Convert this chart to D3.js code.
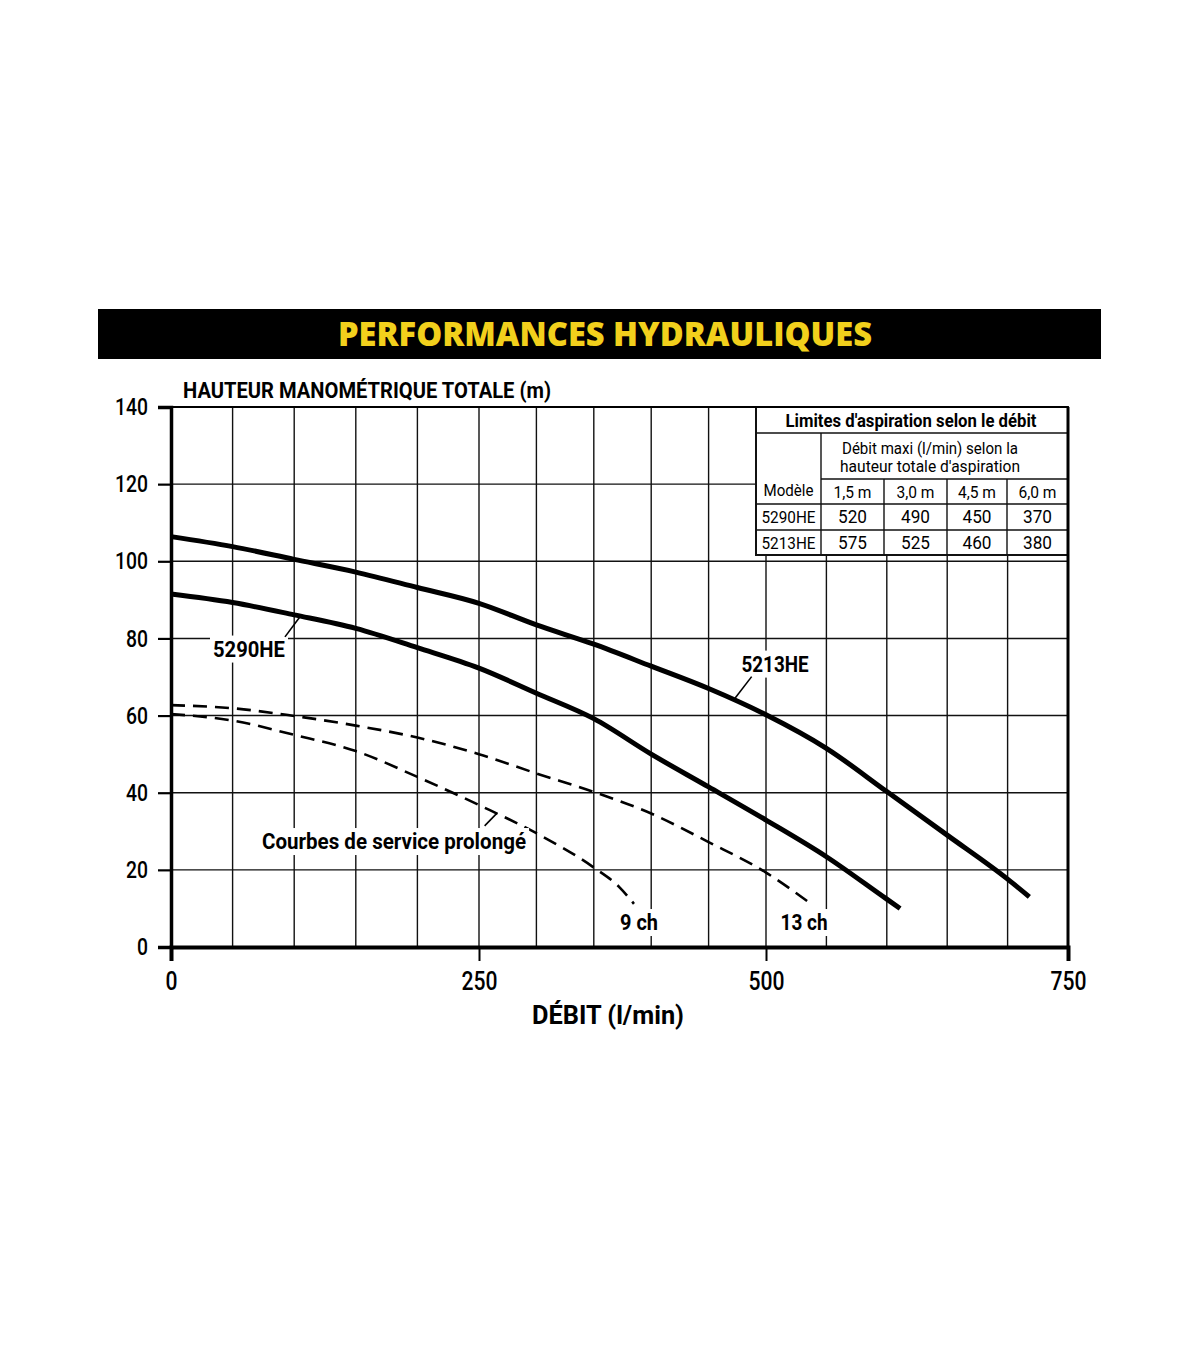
<!DOCTYPE html>
<html>
<head>
<meta charset="utf-8">
<script src="https://cdnjs.cloudflare.com/ajax/libs/d3/7.8.5/d3.min.js"></script>
<style>
  body { margin: 0; background: #fff; }
  text { font-family: Roboto, "Liberation Sans", sans-serif; }
</style>
</head>
<body>
<svg id="chart" width="1200" height="1372"></svg>
<script>
// ---- data ----
var flowTicks = [0, 250, 500, 750];
var flowGrid = [50, 100, 150, 200, 250, 300, 350, 400, 450, 500, 550, 600, 650, 700];
var headTicks = [0, 20, 40, 60, 80, 100, 120, 140];

// debit (l/min), hauteur (m)
var curve5213 = [[0, 106.4], [50, 103.8], [100, 100.5], [150, 97.2], [200, 93.2], [250, 89.1],
  [300, 83.5], [350, 78.5], [400, 72.8], [450, 67.0], [500, 60.2], [550, 51.5],
  [600, 40.3], [650, 29.0], [700, 17.6], [718, 13.0]];
var curve5290 = [[0, 91.5], [50, 89.3], [100, 86.1], [150, 82.6], [200, 77.6], [250, 72.3],
  [300, 65.8], [350, 59.2], [400, 50.0], [450, 41.5], [500, 32.9], [550, 23.4],
  [600, 12.4], [611, 10.0]];
var service13 = [[0, 62.7], [50, 61.9], [100, 59.9], [150, 57.4], [200, 54.3], [250, 50.0],
  [300, 45.0], [350, 40.2], [400, 34.6], [450, 27.2], [500, 19.3], [535, 11.7]];
var service9 = [[0, 60.4], [50, 58.7], [100, 55.0], [150, 50.8], [200, 44.1], [250, 36.8],
  [300, 29.5], [350, 20.6], [372, 15.6], [385, 11.2]];

// suction table
var tableTitle = "Limites d'aspiration selon le débit";
var tableSub = ["Débit maxi (l/min) selon la", "hauteur totale d'aspiration"];
var modelHeader = "Modèle";
var suctionHeights = ["1,5 m", "3,0 m", "4,5 m", "6,0 m"];
var models = ["5290HE", "5213HE"];
var maxFlow5290 = [520, 490, 450, 370];
var maxFlow5213 = [575, 525, 460, 380];

var svg = d3.select("#chart");

// the printed grid is slightly uneven, so the x scale is piecewise
var x = d3.scaleLinear().domain(flowTicks).range([171, 479, 766, 1068]);
var y = d3.scaleLinear().domain([0, 140]).range([947, 407]);

// squeeze text to the printed (condensed) width
function fit(sel, w) {
  sel.attr("textLength", w).attr("lengthAdjust", "spacingAndGlyphs");
  return sel;
}

// title bar
svg.append("rect").attr("x", 98).attr("y", 309).attr("width", 1003).attr("height", 50).attr("fill", "#000");
svg.append("text")
  .attr("x", 605).attr("y", 346)
  .attr("text-anchor", "middle")
  .style("font-family", "'Open Sans', 'DejaVu Sans', sans-serif")
  .style("font-weight", "800")
  .style("font-size", "33px")
  .attr("fill", "#f2d01c")
  .text("PERFORMANCES HYDRAULIQUES")
  .call(fit, 534);

// grid
var grid = svg.append("g").attr("stroke", "#111").attr("stroke-width", 1.4);
grid.selectAll("line.v").data(flowGrid).join("line")
  .attr("x1", d => x(d)).attr("x2", d => x(d))
  .attr("y1", y(140)).attr("y2", y(0));
grid.selectAll("line.h").data(headTicks.slice(1, -1)).join("line")
  .attr("x1", x(0)).attr("x2", x(750))
  .attr("y1", d => y(d)).attr("y2", d => y(d));

// suction table (covers grid)
var colX = [756, 821, 884, 947, 1007, 1068];
var rowY = [407, 433, 479, 504, 530, 555];
var tbl = svg.append("g");
tbl.append("rect").attr("x", colX[0]).attr("y", rowY[0])
  .attr("width", colX[5] - colX[0]).attr("height", rowY[5] - rowY[0])
  .attr("fill", "#fff").attr("stroke", "#111").attr("stroke-width", 2);
var tl = tbl.append("g").attr("stroke", "#111").attr("stroke-width", 1.4);
tl.append("line").attr("x1", colX[0]).attr("x2", colX[5]).attr("y1", rowY[1]).attr("y2", rowY[1]);
tl.append("line").attr("x1", colX[1]).attr("x2", colX[5]).attr("y1", rowY[2]).attr("y2", rowY[2]);
[3, 4].forEach(function (r) {
  tl.append("line").attr("x1", colX[0]).attr("x2", colX[5]).attr("y1", rowY[r]).attr("y2", rowY[r]);
});
tl.append("line").attr("x1", colX[1]).attr("x2", colX[1]).attr("y1", rowY[1]).attr("y2", rowY[5]);
[2, 3, 4].forEach(function (c) {
  tl.append("line").attr("x1", colX[c]).attr("x2", colX[c]).attr("y1", rowY[2]).attr("y2", rowY[5]);
});
tbl.append("text").attr("x", 911).attr("y", 427)
  .attr("text-anchor", "middle").style("font-weight", "bold").style("font-size", "18px")
  .text(tableTitle).call(fit, 251);
tbl.selectAll("text.sub").data(tableSub).join("text")
  .attr("x", 930).attr("y", (d, i) => 454 + i * 18)
  .attr("text-anchor", "middle").style("font-size", "16px")
  .text(d => d)
  .each(function (d, i) { d3.select(this).call(fit, i ? 180 : 176); });
tbl.append("text").attr("x", (colX[0] + colX[1]) / 2).attr("y", 496)
  .attr("text-anchor", "middle").style("font-size", "16px").text(modelHeader).call(fit, 50);
tbl.selectAll("text.hd").data(suctionHeights).join("text")
  .attr("x", (d, i) => (colX[i + 1] + colX[i + 2]) / 2).attr("y", 498)
  .attr("text-anchor", "middle").style("font-size", "16px")
  .text(d => d).call(fit, 38);
[maxFlow5290, maxFlow5213].forEach(function (row, r) {
  tbl.append("text").attr("x", (colX[0] + colX[1]) / 2).attr("y", rowY[r + 3] + 19)
    .attr("text-anchor", "middle").style("font-size", "17px").text(models[r]).call(fit, 54);
  tbl.selectAll("text.v" + r).data(row).join("text")
    .attr("x", (d, i) => (colX[i + 1] + colX[i + 2]) / 2).attr("y", rowY[r + 3] + 19)
    .attr("text-anchor", "middle").style("font-size", "18px")
    .text(d => d).call(fit, 29);
});

// curves
var line = d3.line().x(d => x(d[0])).y(d => y(d[1])).curve(d3.curveMonotoneX);
[curve5213, curve5290].forEach(function (c) {
  svg.append("path").attr("d", line(c)).attr("fill", "none")
    .attr("stroke", "#000").attr("stroke-width", 5).attr("stroke-linecap", "butt");
});
[service13, service9].forEach(function (c) {
  svg.append("path").attr("d", line(c)).attr("fill", "none")
    .attr("stroke", "#000").attr("stroke-width", 2.6).attr("stroke-dasharray", "14,8");
});

// labels with white backing and leader lines
function label(text, cx, base, w, lead) {
  var g = svg.append("g");
  var t = g.append("text").attr("x", x(cx)).attr("y", y(base))
    .attr("text-anchor", "middle").style("font-size", "22px")
    .style("font-weight", "bold").text(text).call(fit, w);
  var b = t.node().getBBox();
  g.insert("rect", "text").attr("x", b.x - 3).attr("y", b.y - 1)
    .attr("width", b.width + 6).attr("height", b.height + 2).attr("fill", "#fff");
  if (lead) {
    g.append("line").attr("x1", x(lead[0])).attr("y1", y(lead[1]))
      .attr("x2", x(lead[2])).attr("y2", y(lead[3]))
      .attr("stroke", "#000").attr("stroke-width", 1.6);
  }
}
label("5290HE", 63.3, 75.3, 72, [92.5, 80.4, 104.7, 85.6]);
label("5213HE", 507.5, 71.4, 67, [487.5, 70.1, 473, 64.5]);
label("Courbes de service prolongé", 181, 25.4, 264, [254.9, 31.4, 265.7, 34.7]);
label("9 ch", 389.4, 4.4, 38, null);
label("13 ch", 531.5, 4.4, 47, null);

// frame and axes
svg.append("line").attr("x1", x(0)).attr("x2", x(750)).attr("y1", y(140)).attr("y2", y(140))
  .attr("stroke", "#000").attr("stroke-width", 2.2);
svg.append("line").attr("x1", x(750)).attr("x2", x(750)).attr("y1", y(140)).attr("y2", y(0))
  .attr("stroke", "#000").attr("stroke-width", 3);

var yAxis = svg.append("g").attr("transform", "translate(" + x(0) + ",0)")
  .call(d3.axisLeft(y).tickValues(headTicks).tickSize(13).tickPadding(10));
yAxis.select(".domain").attr("stroke-width", 3.5);
yAxis.selectAll(".tick line").attr("stroke-width", 2.2);
yAxis.selectAll(".tick text").style("font-size", "24px").style("font-family", null)
  .style("font-weight", "500").attr("fill", "#000")
  .each(function (d) { d3.select(this).call(fit, String(d).length * 11); });

var xAxis = svg.append("g").attr("transform", "translate(0," + y(0) + ")")
  .call(d3.axisBottom(x).tickValues(flowTicks).tickSize(14).tickPadding(11));
xAxis.select(".domain").attr("stroke-width", 4);
xAxis.selectAll(".tick line").attr("stroke-width", 2);
xAxis.selectAll(".tick text").style("font-size", "25px").style("font-family", null)
  .style("font-weight", "500").attr("fill", "#000")
  .each(function (d) { d3.select(this).call(fit, String(d).length * 12); });

svg.append("text").attr("x", 183).attr("y", 398)
  .style("font-weight", "bold").style("font-size", "22px")
  .text("HAUTEUR MANOMÉTRIQUE TOTALE (m)").call(fit, 368);
svg.append("text").attr("x", 608).attr("y", 1024).attr("text-anchor", "middle")
  .style("font-weight", "bold").style("font-size", "26px")
  .text("DÉBIT (l/min)").call(fit, 152);
</script>
</body>
</html>
